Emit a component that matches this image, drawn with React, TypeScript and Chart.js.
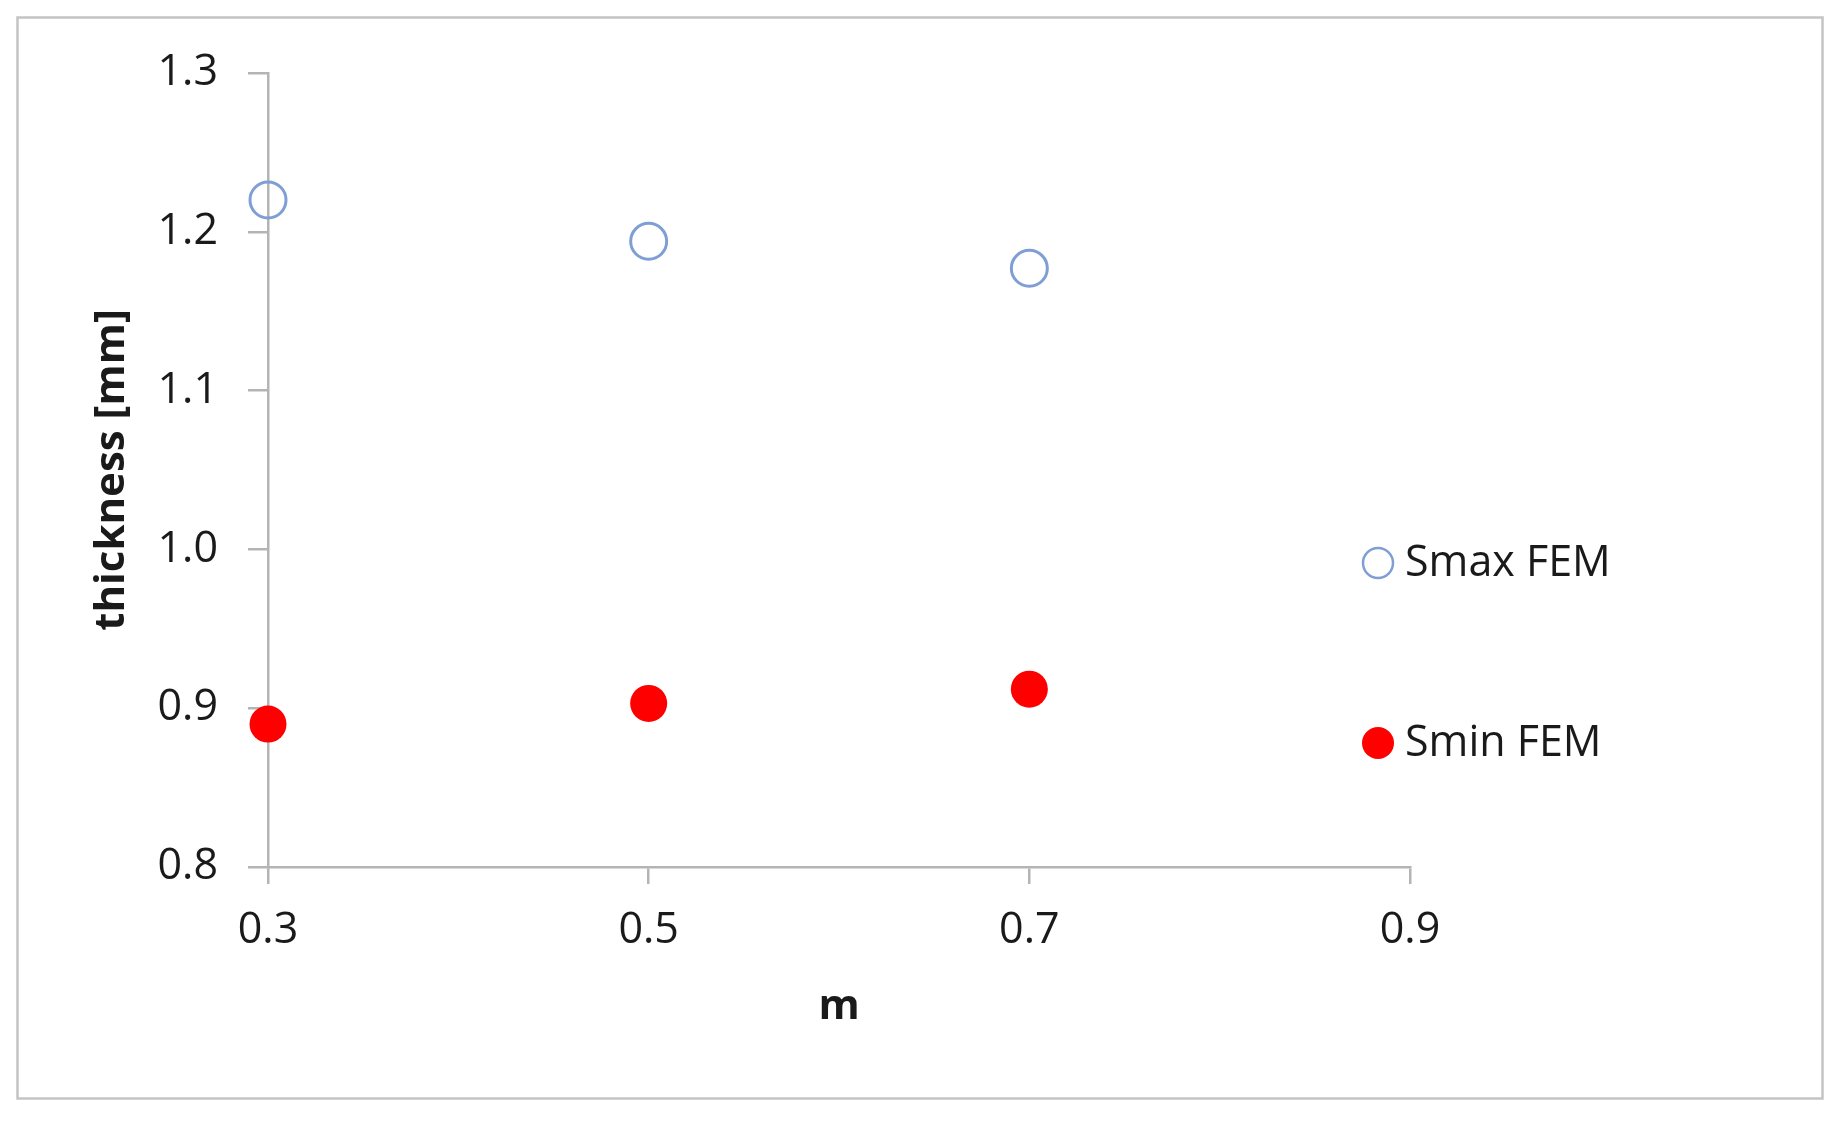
import React, { useEffect, useRef } from "react";
import { Chart, registerables } from "chart.js";
import type { ChartOptions, Plugin, Scale } from "chart.js";

Chart.register(...registerables);

// values
const M_VALUES = [0.3, 0.5, 0.7];
const SMAX_FEM = [1.22, 1.194, 1.177];
const SMIN_FEM = [0.89, 0.903, 0.912];
const SERIES_LABELS = ["Smax FEM", "Smin FEM"];
const X_TICKS = [0.3, 0.5, 0.7, 0.9];
const Y_TICKS = [0.8, 0.9, 1.0, 1.1, 1.2, 1.3];
const X_TITLE = "m";
const Y_TITLE = "thickness [mm]";

const W = 1842;
const H = 1122;
const FONT = "'Open Sans', 'Noto Sans', sans-serif";
const TEXT = "#1a1a1a";
const AXIS = "#b4b4b4";
const FRAME = "#c4c4c4";
const BLUE = "#7f9fd4";
const RED = "#ff0000";

// light gray frame around the whole figure
const framePlugin: Plugin<"scatter"> = {
  id: "frame",
  beforeDraw(c) {
    const { ctx } = c;
    ctx.save();
    ctx.strokeStyle = FRAME;
    ctx.lineWidth = 2.5;
    ctx.strokeRect(17.5, 17.5, 1805, 1081);
    ctx.restore();
  },
};

// Excel-style legend sitting just right of the plot, partly over it
const legendPlugin: Plugin<"scatter"> = {
  id: "sideLegend",
  afterDraw(c) {
    const { ctx, chartArea } = c;
    const x = chartArea.right - 32;
    c.data.datasets.forEach((ds: any, i) => {
      const y = 563 + i * 180;
      ctx.save();
      ctx.beginPath();
      if (ds.pointBorderWidth > 0) {
        ctx.arc(x, y, 15, 0, Math.PI * 2);
        ctx.strokeStyle = ds.pointBorderColor;
        ctx.lineWidth = 2.5;
        ctx.stroke();
      } else {
        ctx.arc(x, y, 16, 0, Math.PI * 2);
        ctx.fillStyle = ds.pointBackgroundColor;
        ctx.fill();
      }
      ctx.fillStyle = TEXT;
      ctx.font = `43px ${FONT}`;
      ctx.textBaseline = "middle";
      ctx.textAlign = "left";
      ctx.fillText(ds.label, x + 27, y + 1);
      ctx.restore();
    });
  },
};

export default function App() {
  const canvasRef = useRef<HTMLCanvasElement | null>(null);

  useEffect(() => {
    const ctx = canvasRef.current?.getContext("2d");
    if (!ctx) return;

    const axisGrid = (tickLength: number) => ({
      display: true,
      drawOnChartArea: false,
      drawTicks: true,
      tickLength,
      color: AXIS,
      lineWidth: 2.5,
    });

    const options: ChartOptions<"scatter"> = {
      animation: false,
      responsive: true,
      maintainAspectRatio: false,
      layout: { padding: { top: 73, right: 432, left: 0, bottom: 0 } },
      plugins: {
        legend: { display: false },
        tooltip: { enabled: false },
      },
      scales: {
        x: {
          type: "linear",
          min: 0.3,
          max: 0.9,
          afterBuildTicks: (s: Scale) => {
            s.ticks = X_TICKS.map((value) => ({ value }));
          },
          afterFit: (s: Scale) => {
            s.height = 255;
          },
          ticks: {
            autoSkip: false,
            maxRotation: 0,
            padding: 21,
            color: TEXT,
            font: { family: FONT, size: 43 },
            callback: (v) => Number(v).toFixed(1),
          },
          grid: axisGrid(17),
          border: { display: true, color: AXIS, width: 2.5 },
          title: {
            display: true,
            text: X_TITLE,
            color: TEXT,
            font: { family: FONT, size: 42, weight: "bold" },
            padding: { top: 0, bottom: 90 },
          },
        },
        y: {
          type: "linear",
          min: 0.8,
          max: 1.3,
          afterBuildTicks: (s: Scale) => {
            s.ticks = Y_TICKS.map((value) => ({ value }));
          },
          afterFit: (s: Scale) => {
            s.width = 268;
          },
          ticks: {
            autoSkip: false,
            padding: 30,
            color: TEXT,
            font: { family: FONT, size: 43 },
            callback: (v) => Number(v).toFixed(1),
          },
          grid: axisGrid(20),
          border: { display: true, color: AXIS, width: 2.5 },
          title: {
            display: true,
            text: Y_TITLE,
            color: TEXT,
            font: { family: FONT, size: 42, weight: "bold" },
            padding: { top: 87, bottom: 0 },
          },
        },
      },
    };

    const chart = new Chart(ctx, {
      type: "scatter",
      data: {
        datasets: [
          {
            label: SERIES_LABELS[0],
            data: M_VALUES.map((x, i) => ({ x, y: SMAX_FEM[i] })),
            pointStyle: "circle",
            pointRadius: 18,
            pointHoverRadius: 18,
            pointBorderWidth: 3,
            pointBorderColor: BLUE,
            pointBackgroundColor: "rgba(0,0,0,0)",
            borderColor: BLUE,
            backgroundColor: "rgba(0,0,0,0)",
            clip: false,
          },
          {
            label: SERIES_LABELS[1],
            data: M_VALUES.map((x, i) => ({ x, y: SMIN_FEM[i] })),
            pointStyle: "circle",
            pointRadius: 18.5,
            pointHoverRadius: 18.5,
            pointBorderWidth: 0,
            pointBorderColor: RED,
            pointBackgroundColor: RED,
            borderColor: RED,
            backgroundColor: RED,
            clip: false,
          },
        ],
      },
      options,
      plugins: [framePlugin, legendPlugin],
    });

    return () => {
      chart.destroy();
    };
  }, []);

  return (
    <div style={{ position: "absolute", left: 0, top: 0, width: W, height: H, background: "#fff" }}>
      <canvas ref={canvasRef} />
    </div>
  );
}
